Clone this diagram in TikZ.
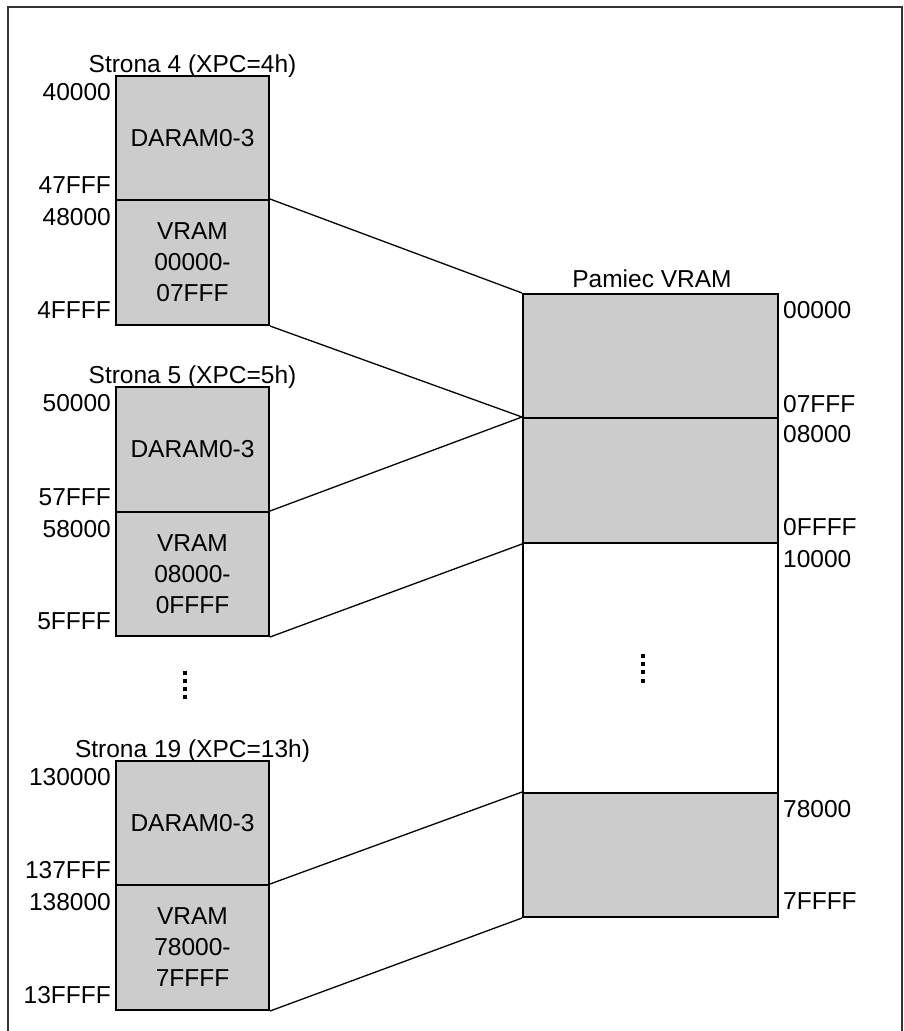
\documentclass[tikz,border=0pt]{standalone}
\usepackage{fontspec}
\setmainfont{Liberation Sans}
\definecolor{cellgray}{HTML}{CCCCCC}
\begin{document}
\begin{tikzpicture}[x=1pt,y=-1pt,
  font=\fontsize{24.5}{31}\selectfont,
  cell/.style={draw=black,line width=2pt,fill=cellgray,minimum width=153pt,inner sep=0pt,align=center},
  cellw/.style={cell,fill=white},
  lab/.style={inner sep=0pt},
  conn/.style={line width=1.3pt},
  dot/.style={fill=black,minimum size=3.5pt,inner sep=0pt}]
\useasboundingbox (0,0) rectangle (904,1031);
% frame
\draw[line width=2pt,black!80] (8,1040) -- (8,7) -- (902,7) -- (902,1040);
% ---- page 4
\node[cell,minimum height=124pt] (p4d) at (192.5,138) {DARAM0-3};
\node[cell,minimum height=125pt] (p4v) at (192.5,262.5) {VRAM\\00000-\\07FFF};
\node[lab,anchor=base] (t4) at (192.5,72) {Strona 4 (XPC=4h)};
\node[lab,anchor=base east] (a40) at (111,100) {40000};
\node[lab,anchor=base east] (a47) at (111,193) {47FFF};
\node[lab,anchor=base east] (a48) at (111,225) {48000};
\node[lab,anchor=base east] (a4F) at (111,318) {4FFFF};
% ---- page 5
\node[cell,minimum height=125pt] (p5d) at (192.5,449.5) {DARAM0-3};
\node[cell,minimum height=124pt] (p5v) at (192.5,574) {VRAM\\08000-\\0FFFF};
\node[lab,anchor=base] (t5) at (192.5,383) {Strona 5 (XPC=5h)};
\node[lab,anchor=base east] (a50) at (111,411) {50000};
\node[lab,anchor=base east] (a57) at (111,505) {57FFF};
\node[lab,anchor=base east] (a58) at (111,537) {58000};
\node[lab,anchor=base east] (a5F) at (111,629) {5FFFF};
% dots left
\node[dot] (ld1) at (185,673) {};
\node[dot] (ld2) at (185,681) {};
\node[dot] (ld3) at (185,689) {};
\node[dot] (ld4) at (185,697) {};
% ---- page 19
\node[cell,minimum height=124pt] (p19d) at (192.5,823) {DARAM0-3};
\node[cell,minimum height=125pt] (p19v) at (192.5,947.5) {VRAM\\78000-\\7FFFF};
\node[lab,anchor=base] (t19) at (192.5,757) {Strona 19 (XPC=13h)};
\node[lab,anchor=base east] (a130) at (111,785) {130000};
\node[lab,anchor=base east] (a137) at (111,878) {137FFF};
\node[lab,anchor=base east] (a138) at (111,910) {138000};
\node[lab,anchor=base east] (a13F) at (111,1003) {13FFFF};
% ---- VRAM memory
\node[cell,minimum width=255pt,minimum height=124pt] (m0) at (650.5,356) {};
\node[cell,minimum width=255pt,minimum height=125pt] (m1) at (650.5,480.5) {};
\node[cellw,minimum width=255pt,minimum height=250pt] (mm) at (650.5,668) {};
\node[cell,minimum width=255pt,minimum height=124pt] (m7) at (650.5,855) {};
\node[lab,anchor=base] (tm) at (652,287) {Pamiec VRAM};
\node[lab,anchor=base west] (r00) at (783,318) {00000};
\node[lab,anchor=base west] (r07) at (783,412) {07FFF};
\node[lab,anchor=base west] (r08) at (783,442) {08000};
\node[lab,anchor=base west] (r0F) at (783,535) {0FFFF};
\node[lab,anchor=base west] (r10) at (783,567) {10000};
\node[lab,anchor=base west] (r78) at (783,817) {78000};
\node[lab,anchor=base west] (r7F) at (783,909) {7FFFF};
% dots right
\node[dot] (rd1) at (643,656) {};
\node[dot] (rd2) at (643,664) {};
\node[dot] (rd3) at (643,672) {};
\node[dot] (rd4) at (643,681) {};
% ---- connectors
\draw[conn] (p4v.north east) -- (m0.north west);
\draw[conn] (p4v.south east) -- (m1.north west);
\draw[conn] (p5v.north east) -- (m1.north west);
\draw[conn] (p5v.south east) -- (m1.south west);
\draw[conn] (p19v.north east) -- (m7.north west);
\draw[conn] (p19v.south east) -- (m7.south west);
\end{tikzpicture}
\end{document}
